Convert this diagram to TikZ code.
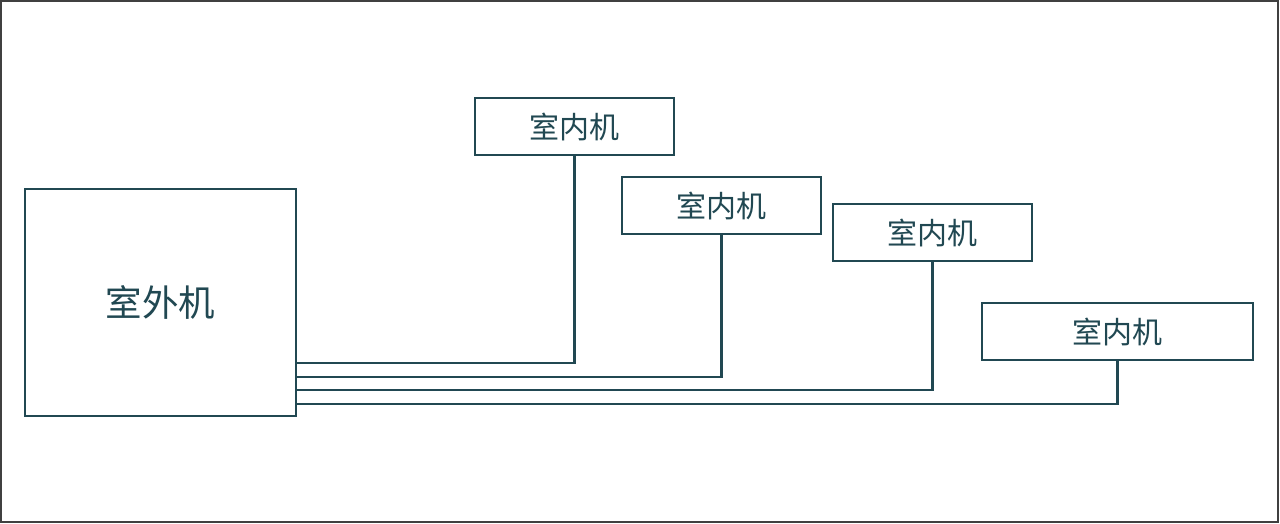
\documentclass[tikz,border=0pt]{standalone}
\usepackage{fontspec}
\newfontfamily\cjk{Noto Sans CJK SC}
\definecolor{unitcol}{RGB}{33,72,82}
\tikzset{
    unit/.style = {draw = unitcol, line width = 2.4pt, text = unitcol, inner sep = 0pt,
        minimum width = 199pt, minimum height = 57pt, font = \cjk\fontsize{30}{32}\selectfont},
    pipe/.style = {unitcol, line width = 2.4pt}
}
\begin{document}
\begin{tikzpicture}[x = 1pt, y = -1pt]
    \useasboundingbox (0, 0) rectangle (1280, 524);
    \draw[black!75, line width = 2pt] (1, 1) rectangle (1278, 522);

    \node[unit, minimum width = 271pt, minimum height = 227pt,
        font = \cjk\fontsize{36.5}{40}\selectfont] (outdoor) at (160.5, 302.5) {室外机};

    \node[unit] (indoor1) at (574.5, 126.5) {室内机};
    \node[unit] (indoor2) at (721.5, 205.5) {室内机};
    \node[unit] (indoor3) at (932.5, 232.5) {室内机};
    \node[unit, minimum width = 271pt] (indoor4) at (1117.5, 331.5) {室内机};

    \draw[pipe] (outdoor.east |- 0, 363) -| (indoor1.south);
    \draw[pipe] (outdoor.east |- 0, 377) -| (indoor2.south);
    \draw[pipe] (outdoor.east |- 0, 390) -| (indoor3.south);
    \draw[pipe] (outdoor.east |- 0, 404) -| (indoor4.south);
\end{tikzpicture}
\end{document}
